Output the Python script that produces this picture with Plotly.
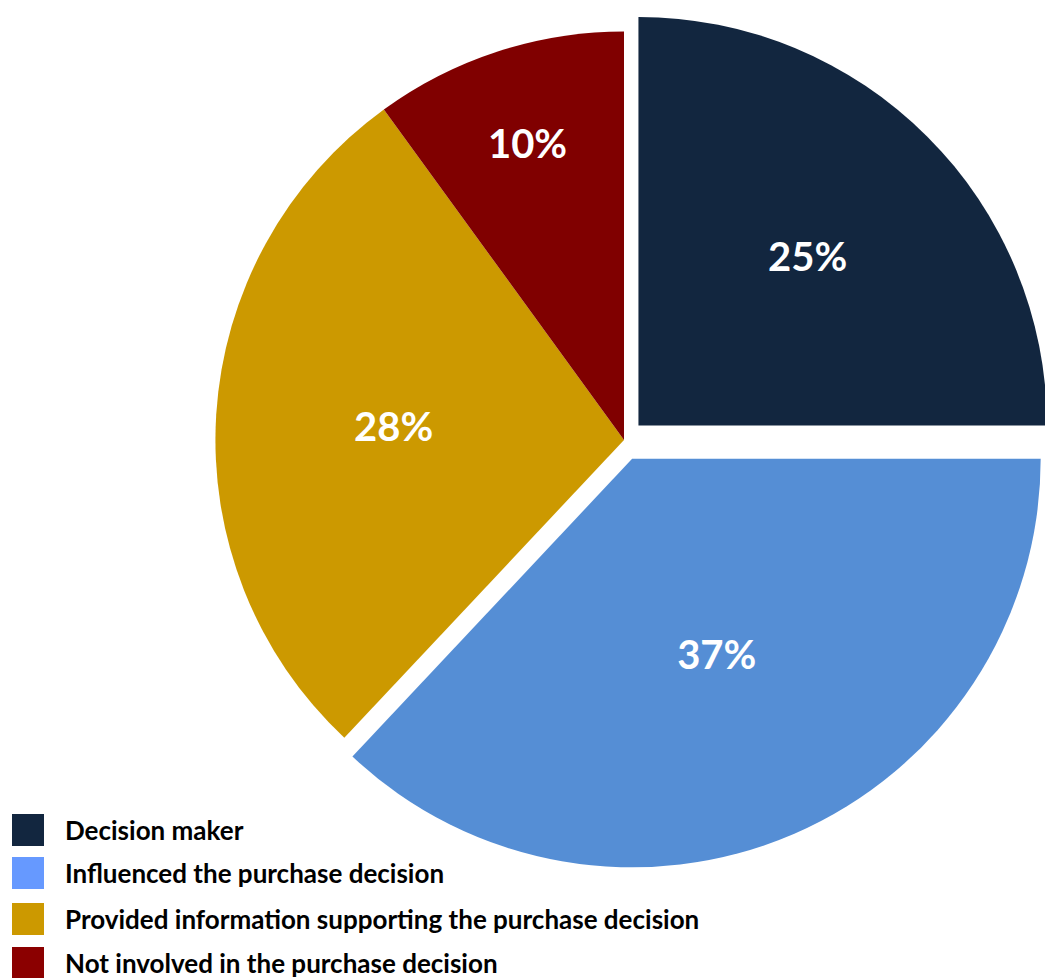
import plotly.graph_objects as go

labels = ["Decision maker", "Influenced the purchase decision",
          "Provided information supporting the purchase decision",
          "Not involved in the purchase decision"]
values = [25, 37, 28, 10]
slice_colors = ["#12263F", "#558ED5", "#CC9900", "#800000"]
legend_colors = ["#12263F", "#6699FF", "#CC9900", "#8B0000"]
pulls = [0.05, 0.05, 0, 0]

# page body adds an 8px margin, so the figure is sized to fill the rest of the window
W, H = 1045, 970
OFF = 8

fig = go.Figure()
fig.add_trace(go.Pie(
    labels=labels, values=values, sort=False, direction="clockwise", rotation=0,
    marker=dict(colors=slice_colors, line=dict(width=0)),
    pull=pulls,
    texttemplate="%{percent:.0%}", textposition="inside",
    insidetextorientation="horizontal",
    textfont=dict(family="Lato", size=40, color="white", weight="bold"),
    domain=dict(x=[187 / W, 1.0], y=[(H - 861) / H, (H - 3) / H]),
    showlegend=False, hoverinfo="label+percent",
))

def px(x):
    return (x - OFF) / W

def py(y):
    return (H - (y - OFF)) / H

sq = 32
y_centers = [830, 873, 919, 963]
shapes = []
annotations = []
for lab, col, yc in zip(labels, legend_colors, y_centers):
    shapes.append(dict(type="rect", xref="paper", yref="paper",
                       x0=px(12), x1=px(12 + sq), y0=py(yc + sq / 2), y1=py(yc - sq / 2),
                       fillcolor=col, line=dict(width=0)))
    annotations.append(dict(text=lab, xref="paper", yref="paper", x=px(63), y=py(yc),
                            xanchor="left", yanchor="middle", showarrow=False,
                            font=dict(family="Lato", size=26, color="black", weight="bold")))

fig.update_layout(
    width=W, height=H, margin=dict(l=0, r=0, t=0, b=0),
    paper_bgcolor="white", plot_bgcolor="white",
    shapes=shapes, annotations=annotations,
)

fig.write_html("out.html")
